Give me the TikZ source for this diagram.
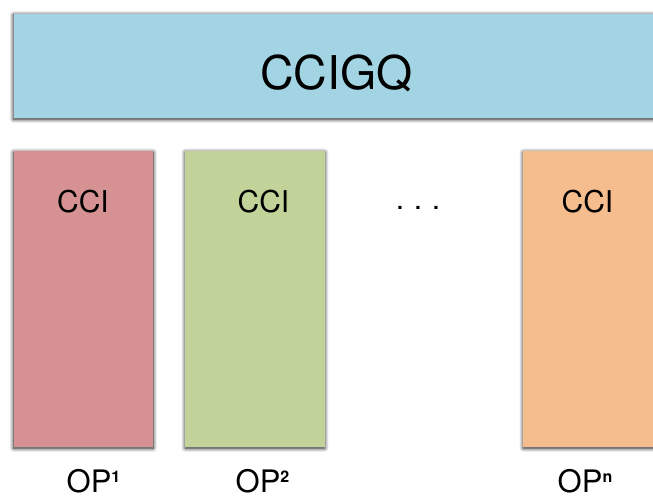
\documentclass[tikz,border=0pt]{standalone}
\usepackage{fontspec}
\setmainfont{TeX Gyre Heros}
\usetikzlibrary{shadows.blur}

\definecolor{barblue}{RGB}{162,212,227}
\definecolor{opred}{RGB}{214,146,147}
\definecolor{opgreen}{RGB}{193,211,153}
\definecolor{oporange}{RGB}{245,189,142}

\newcommand{\opsup}[1]{\raisebox{10.5pt}{\fontsize{16}{17}\selectfont\bfseries #1}}

\begin{document}
\begin{tikzpicture}[x=1pt,y=1pt,
                    shade/.style={blur shadow={shadow xshift=0pt,shadow yshift=-1.2pt,
                                  shadow blur radius=4pt,shadow blur steps=8,shadow opacity=90}},
                    bar node/.style={rectangle,fill=barblue,shade,minimum width=646.5pt,minimum height=104.3pt,inner sep=0pt},
                    op node/.style={rectangle,shade,minimum width=139.5pt,minimum height=296pt,inner sep=0pt},
                    big text/.style={anchor=base,font=\fontsize{46.5}{50}\selectfont},
                    cci text/.style={anchor=base,font=\fontsize{30}{34}\selectfont},
                    op text/.style={anchor=base,inner sep=0pt,font=\fontsize{31}{35}\selectfont}]

  \useasboundingbox (0,0) rectangle (653,500);
  \clip (0,0) rectangle (653,500);

  % top bar
  \node[bar node] (ccigq) at (336.75,434.15) {};
  \node[big text] (ccigqtxt) at (336.5,410) {CCIGQ};

  % the boxes
  \node[op node, fill=opred] (op1) at (83.4,201) {};
  \node[op node, fill=opgreen] (op2) at (255,201) {};
  \node[op node, fill=oporange] (opn) at (593,201) {};

  \node[cci text] (cci1) at (83,287) {CCI};
  \node[cci text] (cci2) at (263.5,287) {CCI};
  \node[cci text] (dots) at (418,290) {.\hspace{0.32em}.\hspace{0.32em}.};
  \node[cci text] (ccin) at (587.5,287) {CCI};

  % labels below
  \node[op text] (lab1) at (93.5,7) {OP\opsup{1}};
  \node[op text] (lab2) at (262.5,7) {OP\opsup{2}};
  \node[op text] (labn) at (585,7) {OP\opsup{n}};

\end{tikzpicture}
\end{document}
